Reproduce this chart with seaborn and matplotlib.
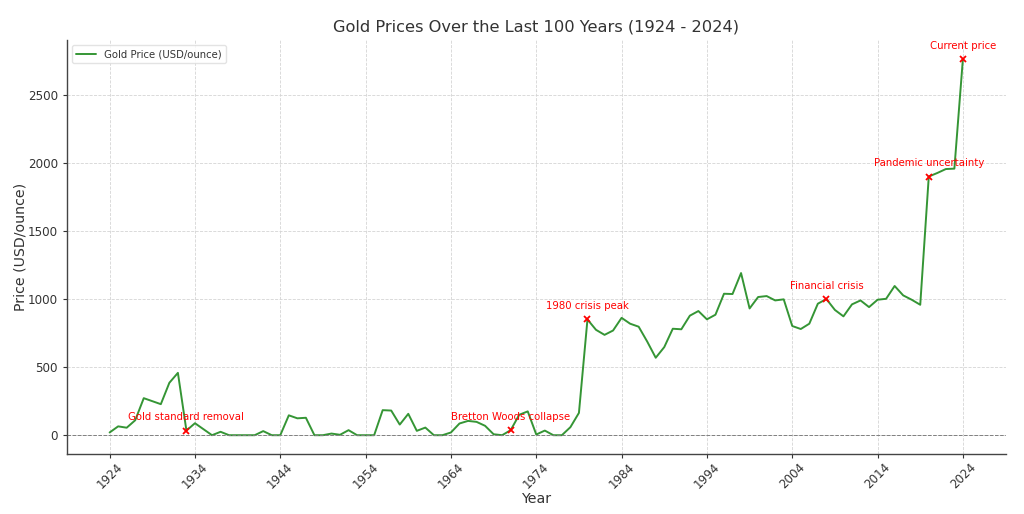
import matplotlib
matplotlib.use("Agg")
import matplotlib.pyplot as plt
import seaborn as sns
import pandas as pd

years = list(range(1924, 2025))
prices = [20, 65, 55, 110, 272, 250, 228, 385, 458, 34,
          88, 44, 0, 25, 0, 0, 0, 0, 30, 0,
          0, 146, 124, 128, 0, 0, 12, 3, 37, 0,
          0, 0, 184, 181, 78, 157, 32, 56, 0, 0,
          20, 86, 105, 98, 69, 7, 0, 37, 150, 175,
          5, 34, 0, 0, 59, 164, 850, 774, 737, 769,
          862, 819, 797, 688, 569, 647, 782, 778, 878, 912,
          851, 885, 1039, 1037, 1191, 931, 1015, 1022, 990, 998,
          802, 780, 819, 966, 1000, 920, 873, 961, 990, 941,
          995, 1002, 1096, 1027, 995, 958, 1900, 1926, 1955, 1958,
          2764]
event_years = [1933, 1971, 1980, 2008, 2020, 2024]
event_labels = ["Gold standard removal", "Bretton Woods collapse", "1980 crisis peak",
                "Financial crisis", "Pandemic uncertainty", "Current price"]
xtick_years = list(range(1924, 2025, 10))
ytick_values = [0, 500, 1000, 1500, 2000, 2500]

df = pd.DataFrame({"Year": years, "Price": prices})

sns.set_theme(style="whitegrid")
plt.rcParams["font.family"] = ["DejaVu Sans"]
text_c = "#333333"

fig, ax = plt.subplots(figsize=(10.24, 5.14), dpi=100)
fig.subplots_adjust(left=0.0654, right=0.982, bottom=0.1167, top=0.922)

sns.lineplot(data=df, x="Year", y="Price", ax=ax, color="#1f8a1f", linewidth=1.4,
             alpha=0.9, label="Gold Price (USD/ounce)")

ax.axhline(0, color="gray", linestyle="--", linewidth=0.7)

for yr, lab in zip(event_years, event_labels):
    val = prices[years.index(yr)]
    ax.plot(yr, val, marker="x", color="red", markersize=5, markeredgewidth=1.3,
            linestyle="none")
    ax.annotate(lab, (yr, val), xytext=(0, 7.3), textcoords="offset points",
                ha="center", color="red", fontsize=7.3)

ax.set_xticks(xtick_years)
ax.set_yticks(ytick_values)
ax.margins(x=0.05, y=0.05)
ax.tick_params(axis="x", labelrotation=45, pad=1.5)
ax.tick_params(axis="both", labelsize=8.6, colors=text_c, length=3, width=0.8,
               direction="out", bottom=True, left=True)

ax.set_title("Gold Prices Over the Last 100 Years (1924 - 2024)", fontsize=11.7, color=text_c)
ax.set_xlabel("Year", fontsize=10.2, color=text_c, labelpad=1)
ax.set_ylabel("Price (USD/ounce)", fontsize=10.2, color=text_c, labelpad=0)

ax.grid(True, color="#d5d5d5", linestyle="--", linewidth=0.6)
ax.set_facecolor("white")
for s in ["top", "right"]:
    ax.spines[s].set_visible(False)
for s in ["left", "bottom"]:
    ax.spines[s].set_color("#444444")
    ax.spines[s].set_linewidth(1.0)

leg = ax.legend(loc="upper left", fontsize=7.3, frameon=True)
leg.get_frame().set_edgecolor("#dddddd")
for t in leg.get_texts():
    t.set_color(text_c)

fig.savefig("out.png", dpi=100)
